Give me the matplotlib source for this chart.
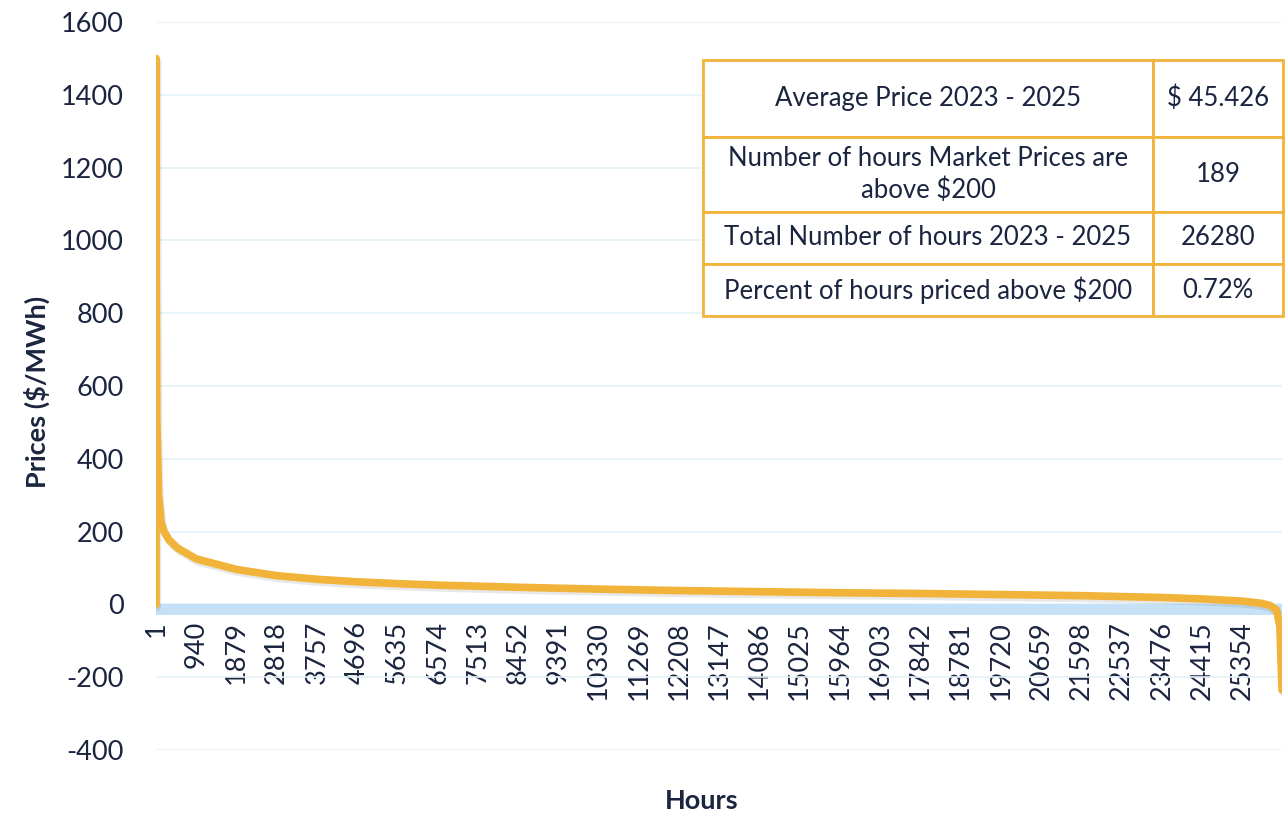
import matplotlib.pyplot as plt
import matplotlib.patheffects as pe
from matplotlib.patches import Rectangle

plt.rcParams['font.family'] = ['Lato', 'DejaVu Sans']
plt.rcParams['axes.unicode_minus'] = False

# price duration curve, sampled points read off the chart (hour rank, $/MWh)
# the chart's line starts from 0 at the left edge before the 1500 peak
hours = [0, 1, 5, 20, 60, 120, 189, 300, 500, 940, 1879, 2818, 3757, 4696, 5635,
         6574, 7513, 8452, 10330, 12208, 14086, 15964, 17842, 19720,
         21598, 23476, 24415, 25354, 25800, 26000, 26150, 26230, 26280]
prices = [0, 1500, 900, 500, 300, 225, 200, 178, 155, 125, 96, 79, 69, 62, 57,
          53, 50, 47, 42, 38, 35, 32, 30, 27,
          24, 19, 15, 9, 3, -3, -15, -60, -235]

tick_hours = list(range(1, 26281, 939))
y_ticks = list(range(-400, 1601, 200))

table_rows = [
    ("Average Price 2023 - 2025", "$ 45.426"),
    ("Number of hours Market Prices are\nabove $200", "189"),
    ("Total Number of hours 2023 - 2025", "26280"),
    ("Percent of hours priced above $200", "0.72%"),
]

text_color = '#1b2540'
line_color = '#F2B33A'
W, H = 1286, 814

fig = plt.figure(figsize=(W / 100, H / 100), dpi=100)
ax = fig.add_axes([156 / W, 1 - 750 / H, (1282 - 156) / W, (750 - 22) / H])

ax.axhspan(-28, 0, color='#C4E1F8', zorder=1, lw=0)
ax.plot(hours, prices, color=line_color, lw=5.5, zorder=3, solid_joinstyle='round',
        solid_capstyle='round',
        path_effects=[pe.SimpleLineShadow(offset=(1, -2), shadow_color='#666666', alpha=0.15),
                      pe.Normal()])

ax.spines['bottom'].set_position(('data', 0))
ax.set_xlim(0, 26280)
ax.set_ylim(-400, 1600)
ax.set_yticks(y_ticks)
ax.set_xticks(tick_hours)
ax.set_xticklabels([str(h) for h in tick_hours])
ax.tick_params(axis='x', length=0, labelsize=19.5, colors=text_color, pad=12, labelrotation=90)
ax.tick_params(axis='y', length=0, labelsize=19.5, colors=text_color, pad=23)
for s in ax.spines.values():
    s.set_visible(False)
ax.yaxis.grid(True, color='#E4F2F7', lw=1.2, zorder=0)
ax.set_axisbelow(True)

fig.text(37 / W, 1 - 392 / H, 'Prices ($/MWh)', rotation=90, ha='center', va='center',
         fontsize=19.5, fontweight='bold', color=text_color)
fig.text(702 / W, 1 - 801 / H, 'Hours', ha='center', va='center',
         fontsize=19.5, fontweight='bold', color=text_color)

# summary table
col_x = [703, 1153, 1283]
row_y = [60, 137, 212, 264, 316]
for i, (label, value) in enumerate(table_rows):
    y0, y1 = row_y[i], row_y[i + 1]
    for j, txt in enumerate((label, value)):
        x0, x1 = col_x[j], col_x[j + 1]
        fig.add_artist(Rectangle((x0 / W, 1 - y1 / H), (x1 - x0) / W, (y1 - y0) / H,
                                 transform=fig.transFigure, facecolor='white',
                                 edgecolor=line_color, lw=2, zorder=5))
        fig.text((x0 + x1) / 2 / W, 1 - (y0 + y1) / 2 / H, txt, ha='center', va='center',
                 fontsize=18.5, color=text_color, zorder=6, linespacing=1.3)

fig.savefig('out.png', dpi=100)
